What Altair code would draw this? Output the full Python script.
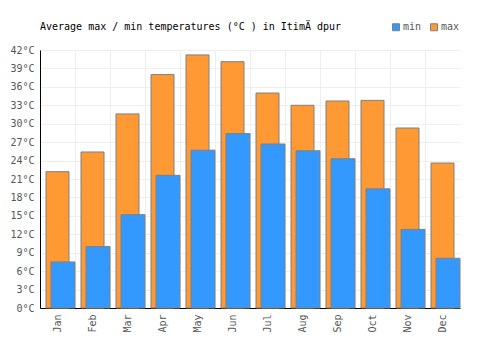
import altair as alt
import pandas as pd

months = ["Jan", "Feb", "Mar", "Apr", "May", "Jun", "Jul", "Aug", "Sep", "Oct", "Nov", "Dec"]
max_temps = [22.2, 25.4, 31.6, 38.0, 41.2, 40.1, 35.0, 33.0, 33.7, 33.8, 29.3, 23.6]
min_temps = [7.5, 10.0, 15.2, 21.6, 25.7, 28.4, 26.7, 25.6, 24.3, 19.4, 12.8, 8.1]
y_ticks = list(range(0, 43, 3))
title_text = "Average max / min temperatures (°C ) in ItimÄ dpur"

df_max = pd.DataFrame({"month": months, "value": max_temps, "type": "max"})
df_min = pd.DataFrame({"month": months, "value": min_temps, "type": "min"})
df_title = pd.DataFrame({"t": [title_text]})

FONT = "DejaVu Sans Mono"
FS = 10

x_enc = alt.X("month:N", sort=months, title=None,
              scale=alt.Scale(paddingInner=0, paddingOuter=0),
              axis=alt.Axis(labelAngle=-90, labelColor="#555555", labelFont=FONT, labelFontSize=FS,
                            ticks=False, domainColor="black", gridColor="#eeeeee", grid=True,
                            bandPosition=0, labelPadding=6))
y_enc = alt.Y("value:Q", title=None,
              scale=alt.Scale(domain=[0, 42], nice=False),
              axis=alt.Axis(values=y_ticks, labelExpr="datum.value + '°C'", labelColor="#555555",
                            labelFont=FONT, labelFontSize=FS, ticks=False, domainColor="black",
                            gridColor="#eeeeee", labelPadding=6))
color_enc = alt.Color("type:N", scale=alt.Scale(domain=["min", "max"], range=["#3399ff", "#ff9933"]),
                      legend=alt.Legend(title=None, orient="none", direction="horizontal",
                                        legendX=351, legendY=-28, symbolType="square",
                                        symbolStrokeColor="#808080", symbolStrokeWidth=1,
                                        symbolSize=49, labelFont=FONT, labelFontSize=FS,
                                        labelColor="#555555", symbolOpacity=1, columnPadding=6,
                                        labelOffset=2))

bars_max = alt.Chart(df_max).mark_bar(width=23, xOffset=0, stroke="#808080", strokeWidth=1, opacity=1).encode(
    x=x_enc, y=y_enc, color=color_enc)
bars_min = alt.Chart(df_min).mark_bar(width=24, xOffset=5.5, stroke="#808080", strokeWidth=1, opacity=1).encode(
    x=x_enc, y=y_enc, color=color_enc)
title_mark = alt.Chart(df_title).mark_text(align="left", baseline="middle", font=FONT, fontSize=FS,
                                           color="black").encode(
    text="t:N", x=alt.value(0), y=alt.value(-23))

chart = alt.layer(bars_max, bars_min, title_mark).properties(
    width=420, height=258,
    autosize=alt.AutoSizeParams(type="none"),
    padding={"left": 40, "top": 50, "right": 40, "bottom": 42},
).configure_view(stroke=None).configure_axis(domainWidth=1)

chart.save("out.html", embed_options={"renderer": "svg", "actions": False})
